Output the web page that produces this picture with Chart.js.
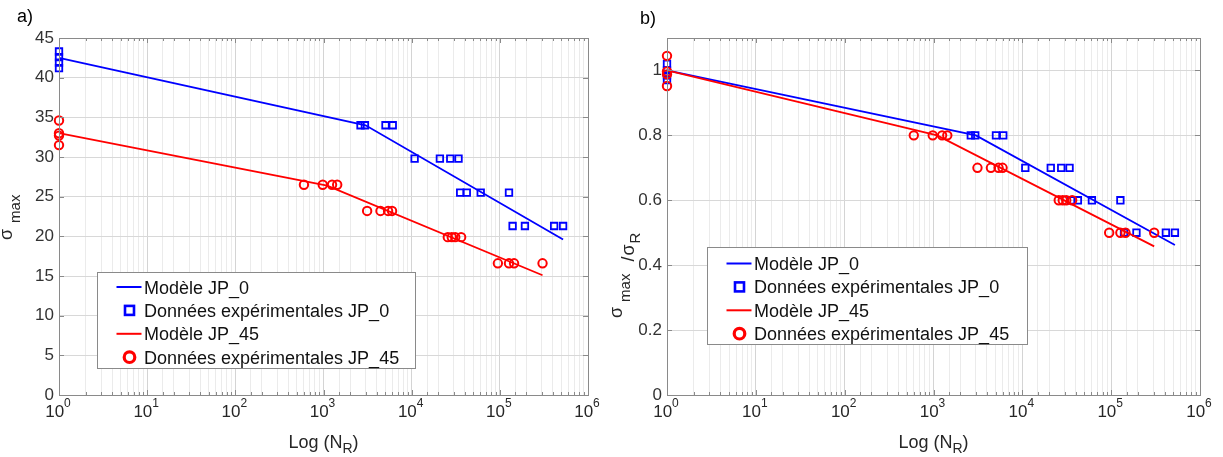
<!DOCTYPE html>
<html><head><meta charset="utf-8">
<script src="https://cdn.jsdelivr.net/npm/chart.js@4.4.1/dist/chart.umd.min.js"></script>
<style>
html,body{margin:0;padding:0;background:#fff;}
#wrap{position:relative;width:1223px;height:457px;overflow:hidden;background:#fff;}
canvas{position:absolute;top:0;}
</style></head><body>
<div id="wrap">
<canvas id="chartA" width="600" height="457" style="left:0px"></canvas>
<canvas id="chartB" width="623" height="457" style="left:600px"></canvas>
</div>
<script>
// ---------------- data ----------------
const xTickValues = [1, 10, 100, 1000, 10000, 100000, 1000000];
const xTickExponents = ['0', '1', '2', '3', '4', '5', '6'];
const legendLabels = ['Modèle JP_0', 'Données expérimentales JP_0', 'Modèle JP_45', 'Données expérimentales JP_45'];

// Experimental data JP_0 (blue squares)
const expJP0_N = [1, 1, 1, 1, 2630, 2950, 5050, 6100, 10800, 20900, 27400, 34000, 35500, 42200, 60700, 127000, 139600, 192600, 413000, 522000];
const expJP0_sigma = [43.3, 42.6, 41.9, 41.2, 34, 34, 34, 34, 29.8, 29.8, 29.8, 29.8, 25.5, 25.5, 25.5, 25.5, 21.3, 21.3, 21.3, 21.3];
const expJP0_ratio = [1.02, 1.0, 0.985, 0.97, 0.8, 0.8, 0.8, 0.8, 0.7, 0.7, 0.7, 0.7, 0.6, 0.6, 0.6, 0.6, 0.5, 0.5, 0.5, 0.5];

// Experimental data JP_45 (red circles)
const expJP45_N = [1, 1, 1, 1, 600, 980, 1250, 1430, 3125, 4430, 5400, 5990, 25700, 28500, 31200, 36400, 95000, 127000, 145000, 305000];
const expJP45_sigma = [34.6, 33.0, 32.7, 31.5, 26.5, 26.5, 26.5, 26.5, 23.2, 23.2, 23.2, 23.2, 19.9, 19.9, 19.9, 19.9, 16.6, 16.6, 16.6, 16.6];
const expJP45_ratio = [1.045, 0.997, 0.988, 0.952, 0.8, 0.8, 0.8, 0.8, 0.7, 0.7, 0.7, 0.7, 0.6, 0.6, 0.6, 0.6, 0.5, 0.5, 0.5, 0.5];

// Model curves
const modelJP0_N = [1, 3000, 522000];
const modelJP0_sigma = [42.5, 34.0, 19.6];
const modelJP0_ratio = [1.0, 0.8, 0.462];
const modelJP45_N = [1, 1100, 305000];
const modelJP45_sigma = [33.0, 26.4, 15.1];
const modelJP45_ratio = [1.0, 0.8, 0.458];

// ---------------- styling ----------------
const FONT = '"Liberation Sans", Arial, Helvetica, sans-serif';
const BLUE = '#0000ff';
const RED = '#ff0000';
const AXIS = '#8a8a8a';
const TEXT = '#262626';

function pts(xs, ys) { return xs.map((x, i) => ({ x: x, y: ys[i] })); }
function isDecade(v) { const l = Math.log10(v); return Math.abs(l - Math.round(l)) < 1e-9; }

function drawRich(ctx, parts, x, y, rotate, center) {
  const widths = parts.map(p => { ctx.font = p[1] + 'px ' + FONT; return ctx.measureText(p[0]).width; });
  const total = parts.reduce((s, p, i) => s + (p[3] || 0) + widths[i], 0);
  ctx.save();
  ctx.translate(x, y);
  if (rotate) ctx.rotate(-Math.PI / 2);
  ctx.textAlign = 'left';
  ctx.textBaseline = 'alphabetic';
  let u = center ? -total / 2 : 0;
  parts.forEach((p, i) => {
    u += (p[3] || 0);
    ctx.font = p[1] + 'px ' + FONT;
    ctx.fillText(p[0], u, p[2]);
    u += widths[i];
  });
  ctx.restore();
}

const decoPlugin = {
  id: 'deco',
  afterDraw(chart, args, o) {
    const ctx = chart.ctx, ca = chart.chartArea, xs = chart.scales.x, ys = chart.scales.y;
    ctx.save();
    ctx.strokeStyle = AXIS;
    ctx.lineWidth = 1;
    // inner tick marks
    ctx.beginPath();
    xs.ticks.forEach(t => {
      const px = Math.round(xs.getPixelForValue(t.value)) + 0.5;
      const L = isDecade(t.value) ? 5 : 3;
      ctx.moveTo(px, ca.bottom); ctx.lineTo(px, ca.bottom - L);
      ctx.moveTo(px, ca.top); ctx.lineTo(px, ca.top + L);
    });
    ys.ticks.forEach(t => {
      const py = Math.round(ys.getPixelForValue(t.value)) + 0.5;
      ctx.moveTo(ca.left, py); ctx.lineTo(ca.left + 5, py);
      ctx.moveTo(ca.right, py); ctx.lineTo(ca.right - 5, py);
    });
    ctx.stroke();
    // axes box
    ctx.strokeRect(Math.round(ca.left) + 0.5, Math.round(ca.top) + 0.5, Math.round(ca.right - ca.left), Math.round(ca.bottom - ca.top));

    // x tick labels 10^n
    ctx.fillStyle = TEXT;
    xTickValues.forEach((v, i) => {
      const px = xs.getPixelForValue(v);
      ctx.font = '17px ' + FONT;
      const w1 = ctx.measureText('10').width;
      ctx.font = '12px ' + FONT;
      const w2 = ctx.measureText(xTickExponents[i]).width;
      const start = px - (w1 + w2) / 2 - 1;
      ctx.textAlign = 'left'; ctx.textBaseline = 'alphabetic';
      ctx.font = '17px ' + FONT;
      ctx.fillText('10', start, 417);
      ctx.font = '12px ' + FONT;
      ctx.fillText(xTickExponents[i], start + w1, 407);
    });

    // x axis title
    ctx.fillStyle = TEXT;
    drawRich(ctx, [['Log (N', 18, 0, 0], ['R', 14, 5, 0], [')', 18, 0, 0]], (ca.left + ca.right) / 2, 448, false, true);
    // y axis title
    drawRich(ctx, o.yTitle.parts, o.yTitle.x, o.yTitle.y, true, false);
    // panel label
    ctx.font = '18px ' + FONT;
    ctx.textAlign = 'left'; ctx.textBaseline = 'alphabetic';
    ctx.fillStyle = '#000';
    ctx.fillText(o.panel.text, o.panel.x, o.panel.y);

    // legend
    const L = o.legend;
    ctx.fillStyle = '#fff';
    ctx.fillRect(L.x, L.y, L.w, L.h);
    ctx.strokeStyle = AXIS;
    ctx.lineWidth = 1;
    ctx.strokeRect(L.x + 0.5, L.y + 0.5, L.w, L.h);
    chart.data.datasets.forEach((ds, i) => {
      const base = L.y + L.first + i * 23.4;
      const cy = base - 6.5;
      if (ds.showLine) {
        ctx.strokeStyle = ds.borderColor; ctx.lineWidth = 2;
        ctx.beginPath(); ctx.moveTo(L.x + 19.5, cy); ctx.lineTo(L.x + 44.5, cy); ctx.stroke();
      } else if (ds.pointStyle === 'rect') {
        ctx.strokeStyle = ds.borderColor; ctx.lineWidth = 2.6;
        ctx.strokeRect(L.x + 32.5 - 4.5, cy - 4.5, 9, 9);
      } else {
        ctx.strokeStyle = ds.borderColor; ctx.lineWidth = 3.2;
        ctx.beginPath(); ctx.arc(L.x + 32.5, cy, 5.3, 0, Math.PI * 2); ctx.stroke();
      }
      ctx.fillStyle = '#111';
      ctx.font = '18px ' + FONT;
      ctx.textAlign = 'left'; ctx.textBaseline = 'alphabetic';
      ctx.fillText(ds.label, L.x + 47, base);
    });
    ctx.restore();
  }
};

function makeChart(id, cfg) {
  const datasets = [
    { label: legendLabels[0], data: pts(modelJP0_N, cfg.m0), showLine: true, borderColor: BLUE, backgroundColor: BLUE, borderWidth: 1.8, pointRadius: 0, order: 4, clip: false },
    { label: legendLabels[1], data: pts(expJP0_N, cfg.e0), showLine: false, pointStyle: 'rect', pointRadius: 4.6, borderColor: BLUE, backgroundColor: 'rgba(0,0,0,0)', borderWidth: 1.8, order: 3, clip: false },
    { label: legendLabels[2], data: pts(modelJP45_N, cfg.m45), showLine: true, borderColor: RED, backgroundColor: RED, borderWidth: 1.8, pointRadius: 0, order: 2, clip: false },
    { label: legendLabels[3], data: pts(expJP45_N, cfg.e45), showLine: false, pointStyle: 'circle', pointRadius: 4.2, borderColor: RED, backgroundColor: 'rgba(0,0,0,0)', borderWidth: 2, order: 1, clip: false }
  ];
  return new Chart(document.getElementById(id), {
    type: 'scatter',
    data: { datasets: datasets },
    options: {
      responsive: false,
      animation: false,
      devicePixelRatio: 1,
      layout: { padding: { left: 0, top: 38, right: cfg.padRight, bottom: 0 } },
      plugins: { legend: { display: false }, tooltip: { enabled: false }, deco: cfg.deco },
      scales: {
        x: {
          type: 'logarithmic', min: 1, max: 1e6,
          afterFit(s) { s.height = 62; },
          ticks: { display: false },
          grid: { color: c => (c.tick && isDecade(c.tick.value)) ? '#d4d4d4' : '#ebebeb', lineWidth: 1, drawTicks: false },
          border: { display: false }
        },
        y: {
          min: 0, max: cfg.yMax,
          afterFit(s) { s.width = cfg.yWidth; },
          afterBuildTicks(s) { s.ticks = s.ticks.filter(t => t.value <= cfg.yLastTick + 1e-9); },
          ticks: { stepSize: cfg.yStep, font: { family: FONT, size: 17 }, color: '#333', padding: 5,
                   callback: v => String(+Number(v).toFixed(2)) },
          grid: { color: '#d8d8d8', lineWidth: 1, drawTicks: false },
          border: { display: false }
        }
      }
    },
    plugins: [decoPlugin]
  });
}

makeChart('chartA', {
  m0: modelJP0_sigma, e0: expJP0_sigma, m45: modelJP45_sigma, e45: expJP45_sigma,
  yMax: 45, yStep: 5, yLastTick: 45, yWidth: 59, padRight: 12,
  deco: {
    panel: { text: 'a)', x: 17, y: 22 },
    yTitle: { x: 12, y: 240, parts: [['σ', 18, 0, 0], ['max', 15, 8, 6]] },
    legend: { x: 97, y: 272, w: 318, h: 96, first: 21.5 }
  }
});

makeChart('chartB', {
  m0: modelJP0_ratio, e0: expJP0_ratio, m45: modelJP45_ratio, e45: expJP45_ratio,
  yMax: 1.1, yStep: 0.2, yLastTick: 1.0, yWidth: 67, padRight: 23,
  deco: {
    panel: { text: 'b)', x: 40, y: 24 },
    yTitle: { x: 22, y: 318, parts: [['σ', 18, 0, 0], ['max', 15, 8, 5], ['/', 18, 12, 12], ['σ', 18, 12, 1], ['R', 15, 18, 1]] },
    legend: { x: 107, y: 247, w: 320, h: 97, first: 23 }
  }
});
</script>
</body></html>
